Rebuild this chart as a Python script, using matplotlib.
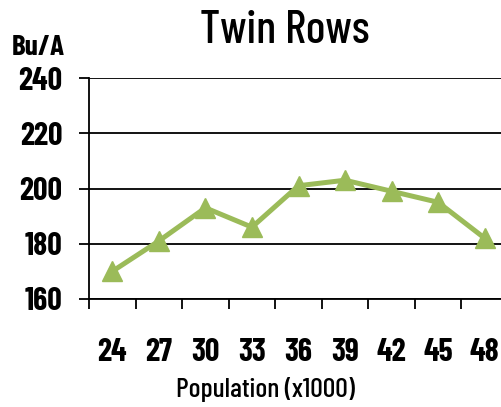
import matplotlib
matplotlib.use('Agg')
import matplotlib.pyplot as plt
import numpy as np

populations = ['24', '27', '30', '33', '36', '39', '42', '45', '48']
yields = [170, 181, 193, 186, 201, 203, 199, 195, 182]
y_ticks = [160, 180, 200, 220, 240]

plt.rcParams['font.family'] = ['Barlow Condensed', 'DejaVu Sans']

fig = plt.figure(figsize=(5.02, 4.07), dpi=100)
ax = fig.add_axes([89/502, 108/407, 419/502, 221/407])

x = np.arange(len(populations))
ax.plot(x, yields, color='#9BBB59', linewidth=3.6, marker='^', markersize=14,
        clip_on=False, zorder=3)

ax.set_ylim(160, 240)
ax.set_xlim(-0.5, len(populations) - 0.5)
ax.set_yticks(y_ticks)
ax.set_yticklabels([str(v) for v in y_ticks], fontsize=23, fontweight='bold')
for v in y_ticks:
    ax.axhline(v, color='black', linewidth=1.3, zorder=1)

ax.set_xticks(x)
ax.set_xticklabels(populations, fontsize=23, fontweight='bold')
ax.set_xticks(np.arange(-0.5, len(populations)), minor=True)
ax.tick_params(axis='x', which='major', length=0, pad=28)
ax.tick_params(axis='x', which='minor', length=7, width=1.3, direction='out')
ax.tick_params(axis='y', length=7, width=1.3, direction='out', pad=12)

for s in ['top', 'right']:
    ax.spines[s].set_visible(False)
ax.spines['left'].set_linewidth(1.3)
ax.spines['bottom'].set_linewidth(1.3)

fig.text(265/502, 1 - 397/407, 'Population (x1000)', fontsize=20, fontweight='medium',
         ha='center', va='baseline')
fig.text(285/502, 1 - 43/407, 'Twin Rows', fontsize=33, fontweight='medium',
         ha='center', va='baseline')
fig.text(38/502, 1 - 55/407, 'Bu/A', fontsize=21, fontweight='bold', ha='center', va='baseline')

fig.savefig('out.png', dpi=100)
